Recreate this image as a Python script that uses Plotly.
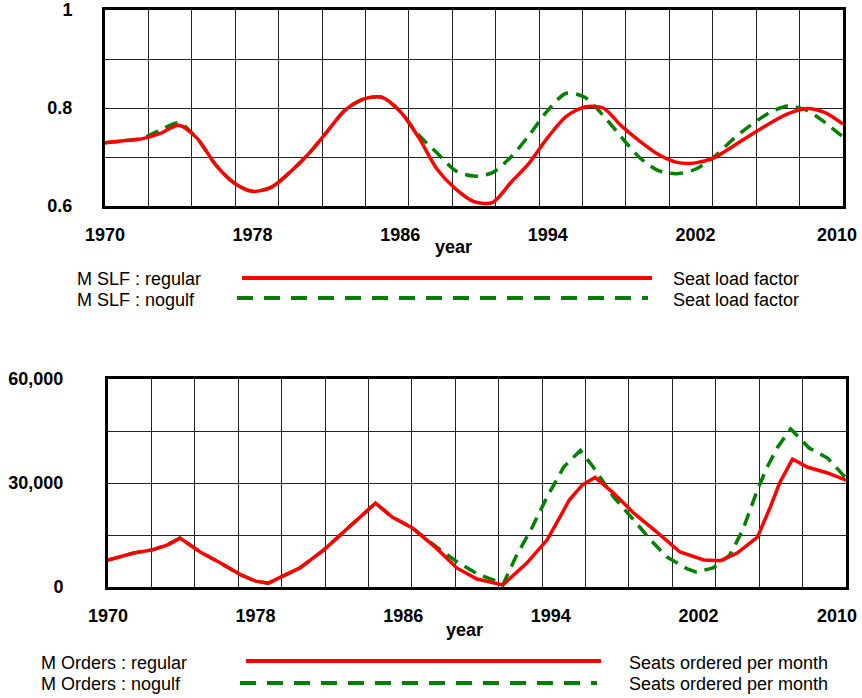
import plotly.graph_objects as go

# ---- Seat load factor, yearly ----
slf_years = list(range(1970, 2011))
slf_regular = [0.729, 0.733, 0.737, 0.748, 0.765, 0.738, 0.684, 0.647, 0.630, 0.638,
               0.668, 0.705, 0.750, 0.795, 0.818, 0.822, 0.793, 0.740, 0.675, 0.635,
               0.609, 0.607, 0.648, 0.688, 0.740, 0.783, 0.802, 0.800, 0.763, 0.732,
               0.705, 0.689, 0.688, 0.698, 0.721, 0.745, 0.768, 0.788, 0.799, 0.791,
               0.767]
slf_nogulf = [0.729, 0.733, 0.738, 0.755, 0.770, 0.737, 0.684, 0.647, 0.630, 0.638,
              0.668, 0.705, 0.750, 0.795, 0.818, 0.822, 0.793, 0.745, 0.708, 0.672,
              0.661, 0.668, 0.700, 0.745, 0.795, 0.830, 0.822, 0.785, 0.740, 0.698,
              0.672, 0.666, 0.675, 0.700, 0.735, 0.765, 0.790, 0.804, 0.796, 0.771,
              0.741]

# ---- Seats ordered per month ----
orders_regular_t = [1970.0, 1971.4, 1972.4, 1973.2, 1973.9, 1975.0, 1976.1, 1977.2, 1978.0,
                    1978.7, 1979.5, 1980.4, 1981.7, 1983.1, 1984.5, 1985.4, 1986.5, 1987.8,
                    1988.9, 1990.0, 1991.4, 1992.7, 1993.8, 1994.5, 1995.0, 1995.7, 1996.4,
                    1997.4, 1998.5, 1999.8, 2001.0, 2002.3, 2003.2, 2004.1, 2005.2, 2005.9,
                    2006.4, 2007.1, 2007.9, 2009.0, 2010.0]
orders_regular = [7800, 9800, 10700, 12100, 14100, 10100, 6900, 3500, 1700,
                  1100, 3200, 5500, 10700, 17300, 24200, 20200, 17000, 11200,
                  5500, 2300, 600, 6900, 13600, 20200, 25100, 29400, 31600,
                  27100, 21300, 15600, 10100, 7800, 7600, 9800, 14400, 23100,
                  30000, 36900, 34600, 32900, 30800]

orders_nogulf_t = [1970.0, 1971.4, 1972.4, 1973.2, 1973.9, 1975.0, 1976.1, 1977.2, 1978.0,
                   1978.7, 1979.5, 1980.4, 1981.7, 1983.1, 1984.5, 1985.4, 1986.5, 1987.8,
                   1988.9, 1990.0, 1991.0, 1991.4, 1992.1, 1993.0, 1993.8, 1994.7, 1995.6,
                   1996.3, 1997.4, 1998.5, 1999.4, 2000.3, 2001.4, 2001.9, 2002.8, 2003.7,
                   2004.4, 2005.2, 2005.7, 2006.3, 2007.0, 2008.0, 2009.0, 2010.0]
orders_nogulf = [7800, 9800, 10700, 12100, 14100, 10100, 6900, 3500, 1700,
                 1100, 3200, 5500, 10700, 17300, 24200, 20200, 17000, 11600,
                 7300, 3800, 1800, 600, 8650, 17300, 26000, 34600, 39400,
                 34600, 26000, 19300, 13600, 8650, 5200, 4300, 5500, 9200,
                 16400, 28000, 34300, 40400, 45600, 40100, 37200, 31400]

year_ticks = [1970, 1978, 1986, 1994, 2002]
end_year_tick = [2010]
slf_ticks = [0.6, 0.8, 1.0]
slf_ticktext = ["0.6", "0.8", "1"]
orders_ticks = [0, 30000, 60000]
orders_ticktext = ["0", "30,000", "60,000"]

RED = "#ff0000"
GREEN = "#008000"
W, H = 862, 698
FONT = "Liberation Sans, Arial, sans-serif"


def px(x):
    return x / W


def py(y):
    return 1 - y / H


fig = go.Figure()

# upper panel (the alternative scenario is drawn underneath)
fig.add_trace(go.Scatter(x=slf_years, y=slf_nogulf, mode="lines",
                         line=dict(color=GREEN, width=3.5, dash="13px,8px",
                                   shape="spline", smoothing=0.8),
                         xaxis="x", yaxis="y", showlegend=False))
fig.add_trace(go.Scatter(x=slf_years, y=slf_regular, mode="lines",
                         line=dict(color=RED, width=3.5, shape="spline", smoothing=0.8),
                         xaxis="x", yaxis="y", showlegend=False))

# lower panel
fig.add_trace(go.Scatter(x=orders_nogulf_t, y=orders_nogulf, mode="lines",
                         line=dict(color=GREEN, width=3.5, dash="13px,8px"),
                         xaxis="x2", yaxis="y2", showlegend=False))
fig.add_trace(go.Scatter(x=orders_regular_t, y=orders_regular, mode="lines",
                         line=dict(color=RED, width=3.5),
                         xaxis="x2", yaxis="y2", showlegend=False))

# empty traces so the overlaid end-label axes get drawn
fig.add_trace(go.Scatter(x=[], y=[], mode="lines", xaxis="x3", yaxis="y",
                         showlegend=False, hoverinfo="skip"))
fig.add_trace(go.Scatter(x=[], y=[], mode="lines", xaxis="x4", yaxis="y2",
                         showlegend=False, hoverinfo="skip"))

grid_x = [1970 + k * 40 / 17 for k in range(1, 17)]
tickfont = dict(family=FONT, size=18, color="black", weight="bold")


def xaxis_cfg(domain, anchor):
    return dict(domain=domain, anchor=anchor, range=[1970, 2010], automargin=False,
                tickmode="array", tickvals=year_ticks,
                ticktext=[str(v) for v in year_ticks],
                showgrid=False, zeroline=False, ticks="",
                showline=True, linecolor="black", linewidth=3, mirror=True,
                tickfont=tickfont, ticklabelstandoff=10,
                minor=dict(tickmode="array", tickvals=grid_x, showgrid=True,
                           gridcolor="#222222", gridwidth=1, ticks=""))


def end_label_cfg(domain, anchor, over, shift):
    # carries only the final year label, nudged left so it stays on the page;
    # an invisible line of the same width keeps its label on the same baseline
    return dict(domain=domain, anchor=anchor, overlaying=over, range=[1970, 2010],
                automargin=False, tickmode="array", tickvals=end_year_tick,
                ticktext=[str(v) for v in end_year_tick], side="bottom",
                showgrid=False, zeroline=False, ticks="",
                showline=True, linecolor="rgba(0,0,0,0)", linewidth=3,
                tickfont=tickfont, ticklabelstandoff=10, ticklabelshift=shift,
                ticklabeloverflow="allow")


def yaxis_cfg(domain, anchor, rng, tv, tt, grid, standoff):
    return dict(domain=domain, anchor=anchor, range=rng, automargin=False,
                tickmode="array", tickvals=tv, ticktext=tt,
                showgrid=False, zeroline=False, ticks="",
                showline=True, linecolor="black", linewidth=3, mirror=True,
                tickfont=tickfont, ticklabelstandoff=standoff, ticklabeloverflow="allow",
                minor=dict(tickmode="array", tickvals=grid, showgrid=True,
                           gridcolor="#222222", gridwidth=1, ticks=""))


fig.update_layout(
    width=W, height=H,
    margin=dict(l=0, r=0, t=0, b=0, autoexpand=False),
    paper_bgcolor="white", plot_bgcolor="white",
    xaxis=xaxis_cfg([px(105), px(843)], "y"),
    yaxis=yaxis_cfg([py(206), py(10)], "x", [0.6, 1.0], slf_ticks, slf_ticktext,
                    [0.7, 0.8, 0.9], 26),
    xaxis2=xaxis_cfg([px(108), px(846)], "y2"),
    yaxis2=yaxis_cfg([py(587), py(379)], "x2", [0, 60000], orders_ticks, orders_ticktext,
                     [15000, 30000, 45000], 38),
    xaxis3=end_label_cfg([px(105), px(843)], "y", "x", -6),
    xaxis4=end_label_cfg([px(108), px(846)], "y2", "x2", -9),
)

annotations = []
shapes = []


def text(x, y, s, bold=False, anchor="left"):
    annotations.append(dict(x=px(x), y=py(y), xref="paper", yref="paper", text=s,
                            showarrow=False, xanchor=anchor, yanchor="middle",
                            font=dict(family=FONT, size=18, color="black",
                                      weight="bold" if bold else "normal")))


def seg(x0, x1, y, color, dash=None):
    line = dict(color=color, width=4)
    if dash:
        line["dash"] = dash
    shapes.append(dict(type="line", xref="paper", yref="paper",
                       x0=px(x0), x1=px(x1), y0=py(y), y1=py(y), line=line))


# axis captions
text(454, 247, "year", bold=True, anchor="center")
text(465, 630, "year", bold=True, anchor="center")

# key for the upper panel
text(75, 279, "M SLF : regular")
text(75, 300, "M SLF : nogulf")
seg(242, 652, 278, RED)
seg(237, 648, 298, GREEN, "16px,11px")
text(671, 279, "Seat load factor")
text(671, 300, "Seat load factor")

# key for the lower panel
text(39, 663, "M Orders : regular")
text(39, 684, "M Orders : nogulf")
seg(246, 601, 661, RED)
seg(240, 597, 683, GREEN, "16px,11px")
text(627, 663, "Seats ordered per month")
text(627, 684, "Seats ordered per month")

fig.update_layout(annotations=annotations, shapes=shapes)

fig.write_html("out.html")
